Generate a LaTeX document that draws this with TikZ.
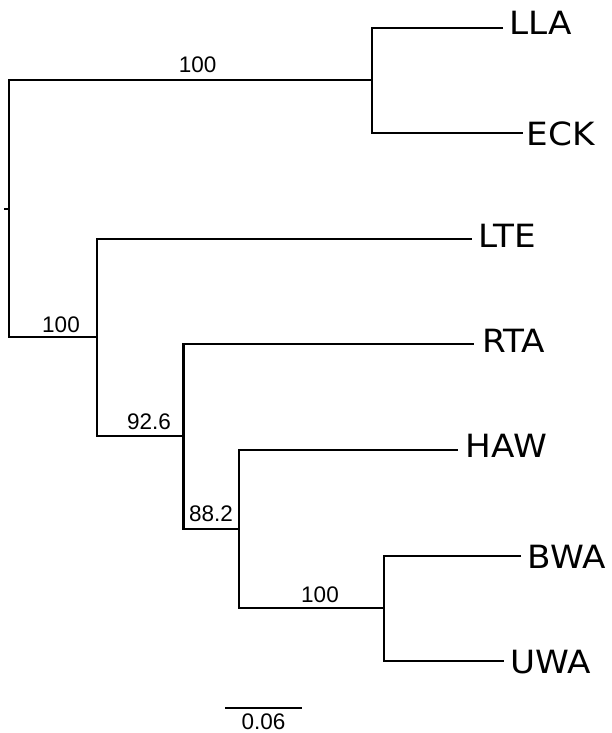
\documentclass[tikz,border=0pt]{standalone}
\usepackage{fontspec}
\newfontfamily\leaffont[FakeStretch=1.07]{DejaVu Sans}
\newfontfamily\numfont{Liberation Sans}
\begin{document}
\begin{tikzpicture}[x=1pt,y=-1pt,
  branch/.style={line width=2.6pt,line join=miter},
  scalebar/.style={line width=1.6pt},
  leaf/.style={anchor=base west,inner sep=0pt,font=\leaffont\fontsize{32}{32}\selectfont},
  support/.style={anchor=base,inner sep=0pt,font=\numfont\fontsize{22.5}{22.5}\selectfont}]
\useasboundingbox (0,0) rectangle (611,733);
% internal nodes
\coordinate (stub) at (4,209);
\coordinate (root) at (9,209);
\coordinate (A) at (372,80);
\coordinate (B) at (97,337);
\coordinate (C) at (183.5,436);
\coordinate (D) at (239,529);
\coordinate (E) at (384,608);
% leaf ends
\coordinate (lla) at (503,28);
\coordinate (eck) at (523,133);
\coordinate (lte) at (472,239);
\coordinate (rta) at (474,344);
\coordinate (haw) at (458,450);
\coordinate (bwa) at (521,556);
\coordinate (uwa) at (504,661);
% branches
\draw[branch] (stub) -- (root);
\draw[branch] (A) |- (root |- A) |- (B) |- (lte);
\draw[branch] (lla) -| (eck -| A) -- (eck);
\draw[branch] (B) |- (C) |- (rta);
\draw[branch] (C) |- (D) |- (haw);
\draw[branch] (D) |- (E);
\draw[branch] (bwa) -| (uwa -| E) -- (uwa);
% leaf labels
\node[leaf] (tLLA) at (509.6,35) {LLA};
\node[leaf] (tECK) at (526.6,145) {ECK};
\node[leaf] (tLTE) at (478.6,247) {LTE};
\node[leaf] (tRTA) at (482,352) {RTA};
\node[leaf] (tHAW) at (465.5,457) {HAW};
\node[leaf] (tBWA) at (527.6,568) {BWA};
\node[leaf] (tUWA) at (510.6,673) {UWA};
% support values
\node[support] (sA) at (197.7,72.7) {100};
\node[support] (sB) at (61,332) {100};
\node[support] (sC) at (149,429) {92.6};
\node[support] (sD) at (211,521.7) {88.2};
\node[support] (sE) at (320,602) {100};
% scale bar
\coordinate (sb1) at (225,708);
\coordinate (sb2) at (302,708);
\draw[scalebar] (sb1) -- (sb2);
\node[support] (sbl) at (263.5,729) {0.06};
\end{tikzpicture}
\end{document}
